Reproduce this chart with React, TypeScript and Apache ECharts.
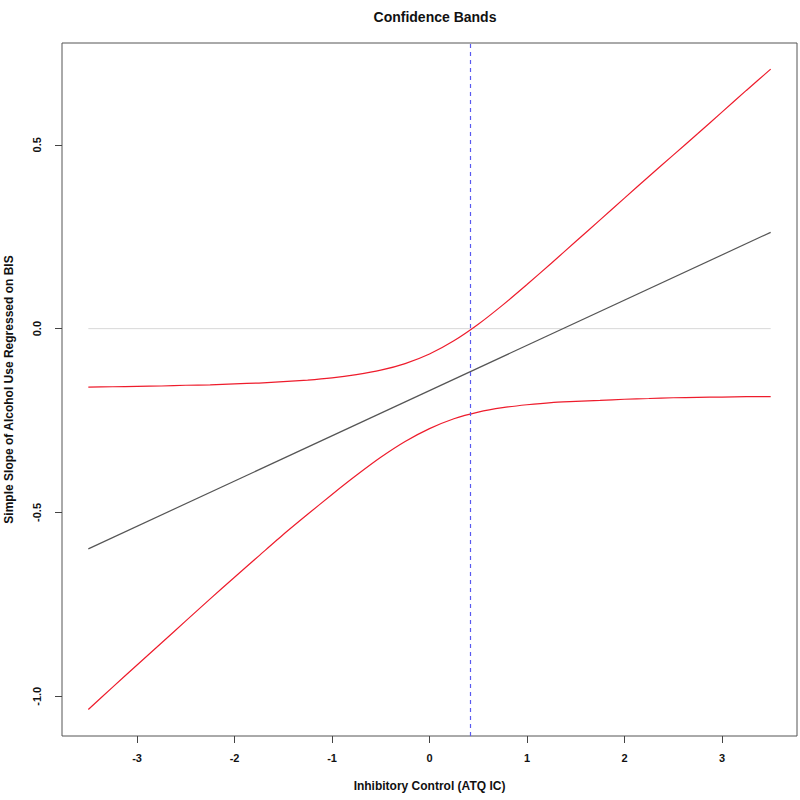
import React, { useEffect, useRef } from "react";
import * as echarts from "echarts";

// Moderator values (Inhibitory Control) at which the bands were read
const xGrid = [
  -3.5, -3.25, -3, -2.75, -2.5, -2.25, -2, -1.75, -1.5, -1.25, -1, -0.75, -0.5, -0.25,
  0, 0.25, 0.5, 0.75, 1, 1.25, 1.5, 1.75, 2, 2.25, 2.5, 2.75, 3, 3.25, 3.5,
];
const upperBand = [
  -0.159, -0.158, -0.157, -0.156, -0.154, -0.153, -0.150, -0.148, -0.144, -0.140, -0.134, -0.125, -0.113, -0.095,
  -0.069, -0.033, 0.012, 0.064, 0.120, 0.178, 0.237, 0.296, 0.355, 0.414, 0.472, 0.530, 0.589, 0.648, 0.706,
];
const lowerBand = [
  -1.036, -0.975, -0.915, -0.855, -0.795, -0.735, -0.676, -0.618, -0.560, -0.505, -0.451, -0.399, -0.350, -0.307,
  -0.272, -0.245, -0.227, -0.215, -0.207, -0.201, -0.198, -0.195, -0.192, -0.190, -0.188, -0.187, -0.186, -0.185, -0.185,
];
// Simple slope line (endpoints)
const slopeX = [-3.5, 3.5];
const slopeY = [-0.599, 0.262];
// Zero reference line
const zeroX = [-3.5, 3.5];
const zeroY = [0, 0];
// Johnson-Neyman point
const jnPoint = 0.424;
// Tick labels
const xTicks = [-3, -2, -1, 0, 1, 2, 3];
const yTicks = [-1.0, -0.5, 0.0, 0.5];

const FONT = "'Liberation Sans', Arial, Helvetica, sans-serif";

export default function App() {
  const ref = useRef<HTMLDivElement>(null);
  useEffect(() => {
    if (!ref.current) return;
    const chart = echarts.init(ref.current, undefined, { renderer: "svg" });
    const zip = (xs: number[], ys: number[]) => xs.map((x, i) => [x, ys[i]]);
    chart.setOption({
      animation: false,
      backgroundColor: "#ffffff",
      title: {
        text: "Confidence Bands",
        left: 430,
        top: 5,
        textAlign: "center",
        textStyle: { fontFamily: FONT, fontWeight: "bold", fontSize: 14, color: "#111" },
      },
      grid: {
        left: 62,
        right: 3,
        top: 43,
        bottom: 64,
        show: true,
        borderColor: "#555",
        borderWidth: 1,
        backgroundColor: "transparent",
        containLabel: false,
        outerBoundsMode: "none",
      },
      xAxis: {
        type: "value",
        min: -3.77,
        max: 3.77,
        name: "Inhibitory Control (ATQ IC)",
        nameLocation: "middle",
        nameGap: 44,
        nameTextStyle: { fontFamily: FONT, fontWeight: "bold", fontSize: 12, color: "#111" },
        axisLine: { show: false, onZero: false },
        splitLine: { show: false },
        axisTick: { show: true, customValues: xTicks, length: 7, lineStyle: { color: "#444" } },
        axisLabel: {
          customValues: xTicks,
          margin: 16,
          fontFamily: FONT,
          fontWeight: "bold",
          fontSize: 11,
          color: "#111",
          formatter: (v: number) => String(v),
        },
      },
      yAxis: {
        type: "value",
        min: -1.108,
        max: 0.777,
        name: "Simple Slope of Alcohol Use Regressed on BIS",
        nameLocation: "middle",
        nameGap: 47,
        nameRotate: 90,
        nameTextStyle: { fontFamily: FONT, fontWeight: "bold", fontSize: 12, color: "#111" },
        axisLine: { show: false, onZero: false },
        splitLine: { show: false },
        axisTick: { show: true, customValues: yTicks, length: 7, lineStyle: { color: "#444" } },
        axisLabel: {
          customValues: yTicks,
          rotate: 90,
          margin: 20,
          fontFamily: FONT,
          fontWeight: "bold",
          fontSize: 11,
          color: "#111",
          formatter: (v: number) => v.toFixed(1),
        },
      },
      series: [
        {
          type: "line",
          data: zip(zeroX, zeroY),
          symbol: "none",
          lineStyle: { color: "#d8d8d8", width: 1 },
          z: 1,
        },
        {
          type: "line",
          data: zip(slopeX, slopeY),
          symbol: "none",
          lineStyle: { color: "#555555", width: 1.2 },
          z: 2,
        },
        {
          type: "line",
          data: zip(xGrid, upperBand),
          symbol: "none",
          smooth: 0.2,
          lineStyle: { color: "#ee1c2c", width: 1.2 },
          z: 3,
          markLine: {
            silent: true,
            symbol: "none",
            label: { show: false },
            lineStyle: { color: "#5a5af0", type: [4, 4], width: 1.2 },
            data: [{ xAxis: jnPoint }],
          },
        },
        {
          type: "line",
          data: zip(xGrid, lowerBand),
          symbol: "none",
          smooth: 0.2,
          lineStyle: { color: "#ee1c2c", width: 1.2 },
          z: 3,
        },
      ],
    });
    return () => chart.dispose();
  }, []);
  return (
    <div
      ref={ref}
      style={{ position: "absolute", left: 0, top: 0, width: 800, height: 800, background: "#fff" }}
    />
  );
}
